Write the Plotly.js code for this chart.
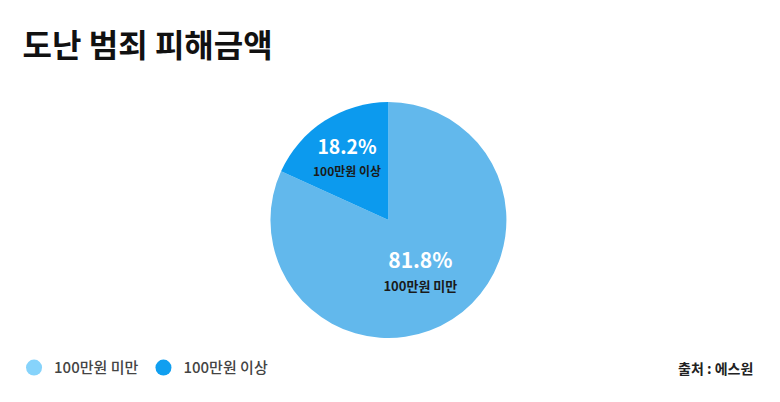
<!DOCTYPE html>
<html>
<head>
<meta charset="utf-8">
<script src="https://cdn.plot.ly/plotly-3.0.1.min.js"></script>
<style>
  html, body { margin: 0; padding: 0; background: #fff; }
  #chart { width: 780px; height: 402px; }
</style>
</head>
<body>
<div id="chart"></div>
<script>
// 도난 범죄 피해금액 (출처: 에스원)
const labels = ["100만원 미만", "100만원 이상"];
const shares = [81.8, 18.2];
const sliceColors = ["#62b8ec", "#0c9aee"];
const legendColors = ["#86d3fb", "#109ff0"];

const FONT = "'Noto Sans CJK KR', 'Noto Sans', sans-serif";

const pie = {
    type: "pie",
    labels: labels,
    values: shares,
    sort: false,
    direction: "clockwise",
    rotation: 0,
    marker: { colors: sliceColors, line: { width: 0 } },
    texttemplate:
        "<span style='font-size:21px;color:#ffffff'><b>%{percent}</b></span><br>" +
        "<span style='font-size:13px;color:#1a1a1a'><b>%{label}</b></span>",
    textposition: "inside",
    insidetextorientation: "horizontal",
    textfont: { family: FONT, size: 18 },
    hoverinfo: "none",
    showlegend: false,
    domain: { x: [0.346, 0.65], y: [0.159, 0.746] },
};

// legend entries drawn with round markers
const legendTraces = labels.map(function (name, i) {
    return {
        type: "scatter",
        mode: "markers",
        x: [null],
        y: [null],
        name: name,
        marker: { color: legendColors[i], size: 17, symbol: "circle" },
        hoverinfo: "none",
    };
});

const layout = {
    width: 780,
    height: 402,
    margin: { l: 0, r: 0, t: 0, b: 0 },
    paper_bgcolor: "#ffffff",
    plot_bgcolor: "#ffffff",
    font: { family: FONT },
    title: {
        text: "<b>도난 범죄 피해금액</b>",
        x: 0.029,
        xanchor: "left",
        y: 0.885,
        yanchor: "middle",
        font: { size: 32, color: "#111111", family: FONT },
    },
    xaxis: { visible: false },
    yaxis: { visible: false },
    showlegend: true,
    legend: {
        orientation: "h",
        x: 0.018,
        xanchor: "left",
        y: 0.085,
        yanchor: "middle",
        font: { size: 15, color: "#444444", family: FONT, weight: 500 },
        itemwidth: 20,
        tracegroupgap: 0,
    },
    annotations: [
        {
            text: "<b>출처 : 에스원</b>",
            xref: "paper",
            yref: "paper",
            x: 0.968,
            xanchor: "right",
            y: 0.085,
            yanchor: "middle",
            showarrow: false,
            font: { size: 14, color: "#222222", family: FONT },
        },
    ],
};

Plotly.newPlot("chart", [pie].concat(legendTraces), layout, {
    displayModeBar: false,
    staticPlot: true,
});
</script>
</body>
</html>
